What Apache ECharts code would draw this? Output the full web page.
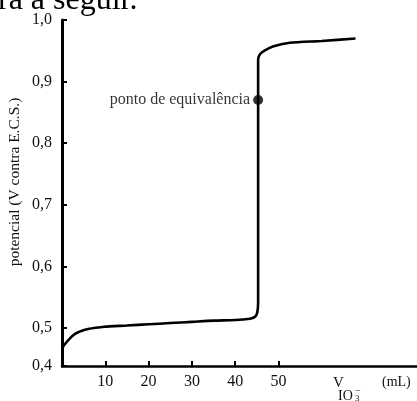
<!DOCTYPE html>
<html>
<head>
<meta charset="utf-8">
<script src="https://cdn.jsdelivr.net/npm/echarts@6/dist/echarts.min.js"></script>
<style>html,body{margin:0;padding:0;background:#fff}#c{width:417px;height:401px}</style>
</head>
<body>
<div id="c"></div>
<script>
// ---- data ----
const volume = [0, 0.3, 0.7, 1.3, 2.2, 3.2, 4.2, 5.1, 6.3, 7.4, 9.7, 15, 20, 25, 30, 35, 40, 43.4, 44.3, 44.8, 45.1, 45.3, 45.3, 45.6, 46.5, 48.7, 52.6, 60, 67.8];
const potential = [0.440, 0.452, 0.458, 0.466, 0.477, 0.486, 0.491, 0.495, 0.498, 0.500, 0.502, 0.504, 0.506, 0.508, 0.510, 0.512, 0.513, 0.515, 0.517, 0.520, 0.525, 0.540, 0.935, 0.943, 0.949, 0.957, 0.963, 0.966, 0.970];
const equivVolume = [45.3];
const equivPotential = [0.870];
const equivLabel = 'ponto de equivalência';
const yTicks = [0.4, 0.5, 0.6, 0.7, 0.8, 0.9, 1.0];
const xTicks = [10, 20, 30, 40, 50];
const yTitle = 'potencial (V contra E.C.S.)';
const headerText = 'ra a seguir.';

// the original figure draws the 0,4–0,5 interval compressed (broken-axis style)
const BREAK = 0.5, COMPRESS = 0.617;
const warp = v => v >= BREAK ? v : BREAK - (BREAK - v) * COMPRESS;
const unwarp = u => u >= BREAK ? u : BREAK - (BREAK - u) / COMPRESS;

const serif = '"Liberation Serif", "DejaVu Serif", serif';
const chart = echarts.init(document.getElementById('c'));
chart.setOption({
  animation: false,
  backgroundColor: '#fff',
  grid: { left: 62, right: 0, top: 20, bottom: 35 },
  xAxis: {
    type: 'value', min: 0, max: 82,
    axisLine: { lineStyle: { color: '#000', width: 2.5 } },
    axisTick: { inside: true, length: 5, lineStyle: { color: '#000', width: 2 }, customValues: xTicks },
    axisLabel: { customValues: xTicks, margin: 8, fontFamily: serif, fontSize: 16, color: '#111' },
    splitLine: { show: false }
  },
  yAxis: {
    type: 'value', min: warp(yTicks[0]), max: yTicks[yTicks.length - 1],
    axisLine: { show: true, lineStyle: { color: '#000', width: 3 } },
    axisTick: { show: true, inside: true, length: 5, lineStyle: { color: '#000', width: 2 }, customValues: yTicks.map(warp) },
    axisLabel: { customValues: yTicks.map(warp), margin: 10, fontFamily: serif, fontSize: 16, color: '#111',
      formatter: v => unwarp(v).toFixed(1).replace('.', ',') },
    splitLine: { show: false }
  },
  series: [
    {
      type: 'line', symbol: 'none', smooth: 0.25,
      data: volume.map((x, i) => [x, warp(potential[i])]),
      lineStyle: { color: '#000', width: 2.6 }
    },
    {
      type: 'scatter', symbol: 'circle', symbolSize: 10,
      data: equivVolume.map((x, i) => [x, warp(equivPotential[i])]),
      itemStyle: { color: '#000' },
      label: { show: true, position: 'left', distance: 3, formatter: equivLabel,
        fontFamily: serif, fontSize: 16, color: '#000' },
      z: 5
    }
  ],
  graphic: [
    { type: 'text', left: -2, top: -15, style: { text: headerText, font: '32px ' + serif, fill: '#000' } },
    { type: 'text', x: 15, y: 182, rotation: Math.PI / 2,
      style: { text: yTitle, font: '15.5px ' + serif, fill: '#111', align: 'center', verticalAlign: 'middle' } },
    { type: 'text', x: 333, y: 383, style: { text: 'V', font: '15px ' + serif, fill: '#111', verticalAlign: 'middle' } },
    { type: 'text', x: 338, y: 396, style: { text: 'IO', font: '14px ' + serif, fill: '#111', verticalAlign: 'middle' } },
    { type: 'text', x: 355, y: 399, style: { text: '3', font: '9px ' + serif, fill: '#111', verticalAlign: 'middle' } },
    { type: 'text', x: 355, y: 391, style: { text: '−', font: '10px ' + serif, fill: '#111', verticalAlign: 'middle' } },
    { type: 'text', x: 382, y: 382, style: { text: '(mL)', font: '14px ' + serif, fill: '#111', verticalAlign: 'middle' } }
  ]
});
</script>
</body>
</html>
